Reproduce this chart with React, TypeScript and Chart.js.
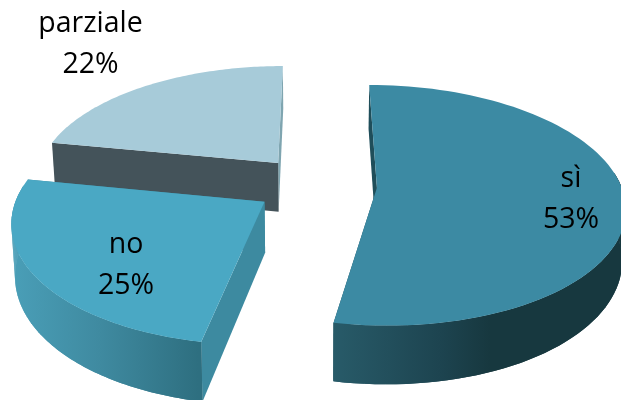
import React, { useEffect, useRef } from "react";
import { Chart, registerables } from "chart.js";

Chart.register(...registerables);

const categories = ["sì", "no", "parziale"];
const shares = [53, 25, 22];

const topColors = ["#3c8aa3", "#4aa8c4", "#a7cbd9"];
const startWallColors = ["#1f4e5a", "#3d8aa0", "#44535a"];
const endWallColors = ["#1f4e5a", "#3d8aa0", "#7fa5b0"];
const rimStops: [number, string][][] = [
  [[332, "#285b69"], [440, "#1d4450"], [490, "#17383f"], [621, "#17383f"]],
  [[10, "#4a9fb8"], [100, "#3f8aa0"], [198, "#2e6f80"]],
  [[54, "#44535a"], [280, "#44535a"]],
];
// Baseline of each label's first line.
const labelAnchors = [
  [571, 187],
  [126, 253],
  [90.5, 32],
];

// Perspective camera for the tilted disc; one unit is the pie radius.
const CENTER_X = 316;
const CENTER_Y = 185;
const SCALE_X = 244;
const SCALE_Y = 117;
const PERSPECTIVE = 0.145;
const THICKNESS = 50;
const CONVERGE = 0.012;
const EXPLODE_PX = 40;
const RADIUS_PX = 160;
const LINE_GAP = 41;
const LABEL_FONT = '28.5px "Open Sans", sans-serif';

type Pt = [number, number];

function project(x: number, y: number, drop = 0): Pt {
  const w = 1 - PERSPECTIVE * y;
  const sx = CENTER_X + (SCALE_X * x) / w;
  // Lower edges lean slightly toward the vanishing axis.
  const lean = drop ? (CENTER_X - sx) * CONVERGE : 0;
  return [sx + lean, CENTER_Y + (SCALE_Y * y + drop) / w];
}

function fillPath(ctx: CanvasRenderingContext2D, pts: Pt[], fill: string | CanvasGradient) {
  ctx.beginPath();
  pts.forEach(([x, y], i) => (i ? ctx.lineTo(x, y) : ctx.moveTo(x, y)));
  ctx.closePath();
  ctx.fillStyle = fill;
  ctx.fill();
}

const extrudedPie = {
  id: "extrudedPie",
  beforeDatasetDraw(chart: any) {
    const ctx: CanvasRenderingContext2D = chart.ctx;
    const arcs = chart.getDatasetMeta(0).data;
    // Back slices first so the nearer ones overlap them.
    for (let i = arcs.length - 1; i >= 0; i--) {
      const arc = arcs[i];
      const { startAngle, endAngle, outerRadius } = arc;
      const mid = (startAngle + endAngle) / 2;
      const shift = arc.options.offset / outerRadius;
      const ax = Math.cos(mid) * shift;
      const ay = Math.sin(mid) * shift;
      const rimAt = (a: number, drop = 0) =>
        project(ax + Math.cos(a), ay + Math.sin(a), drop);

      const steps = 90;
      const top: Pt[] = [];
      const frontTop: Pt[] = [];
      const frontBottom: Pt[] = [];
      for (let s = 0; s <= steps; s++) {
        const a = startAngle + ((endAngle - startAngle) * s) / steps;
        top.push(rimAt(a));
        // Only the part of the rim that faces the viewer gets a wall.
        if (Math.sin(a) > -0.15) {
          frontTop.push(rimAt(a));
          frontBottom.push(rimAt(a, THICKNESS));
        }
      }
      const apex = project(ax, ay);
      const apexLow = project(ax, ay, THICKNESS);

      fillPath(ctx, [apex, top[steps], rimAt(endAngle, THICKNESS), apexLow], endWallColors[i]);
      fillPath(ctx, [apex, top[0], rimAt(startAngle, THICKNESS), apexLow], startWallColors[i]);

      if (frontTop.length) {
        const stops = rimStops[i];
        const from = stops[0][0];
        const span = stops[stops.length - 1][0] - from;
        const grad = ctx.createLinearGradient(from, 0, from + span, 0);
        stops.forEach(([x, c]) => grad.addColorStop((x - from) / span, c));
        fillPath(ctx, [...frontTop, ...frontBottom.slice().reverse()], grad);
        // The strip folds over itself at the silhouette, so sweep it quad by quad too.
        for (let s = 0; s + 1 < frontTop.length; s++) {
          fillPath(ctx, [frontTop[s], frontTop[s + 1], frontBottom[s + 1], frontBottom[s]], grad);
        }
      }

      fillPath(ctx, [apex, ...top], arc.options.backgroundColor);
    }

    ctx.save();
    ctx.fillStyle = "#000";
    ctx.font = LABEL_FONT;
    ctx.textAlign = "center";
    ctx.textBaseline = "alphabetic";
    categories.forEach((name, i) => {
      const [x, y] = labelAnchors[i];
      ctx.fillText(name, x, y);
      ctx.fillText(`${shares[i]}%`, x, y + LINE_GAP);
    });
    ctx.restore();
    return false;
  },
};

export default function App() {
  const ref = useRef<HTMLCanvasElement>(null);
  useEffect(() => {
    const chart = new Chart(ref.current!, {
      type: "pie",
      data: {
        labels: categories,
        datasets: [
          {
            data: shares,
            backgroundColor: topColors,
            borderWidth: 0,
            offset: EXPLODE_PX,
          },
        ],
      },
      options: {
        animation: false,
        responsive: false,
        events: [],
        radius: RADIUS_PX,
        plugins: { legend: { display: false }, tooltip: { enabled: false } },
      } as any,
      plugins: [extrudedPie],
    });
    return () => chart.destroy();
  }, []);
  return (
    <canvas
      ref={ref}
      width={621}
      height={400}
      style={{ position: "fixed", left: 0, top: 0, display: "block", background: "#fff" }}
    />
  );
}
